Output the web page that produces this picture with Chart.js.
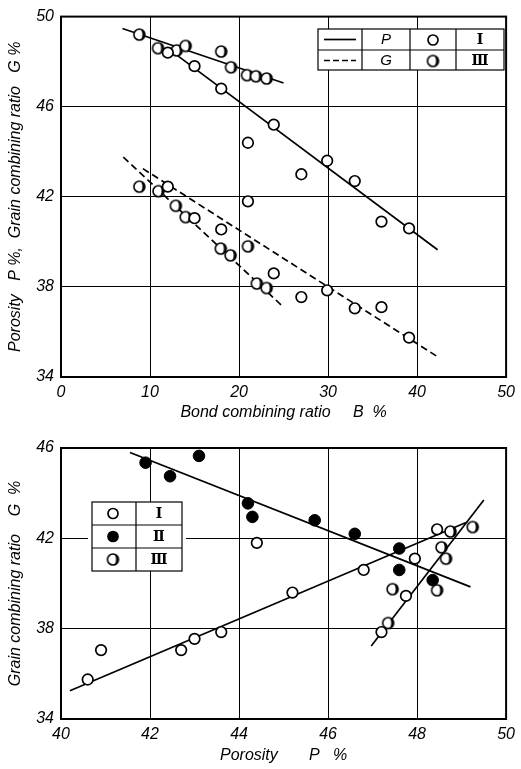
<!DOCTYPE html>
<html>
<head>
<meta charset="utf-8">
<script src="https://cdn.jsdelivr.net/npm/chart.js@4/dist/chart.umd.min.js"></script>
<style>
  html, body { margin: 0; padding: 0; background: #fff; }
  #wrap { position: relative; width: 521px; height: 769px; }
  .box { position: absolute; left: 0; width: 521px; }
</style>
</head>
<body>
<div id="wrap">
  <div class="box" style="top:0;height:430px"><canvas id="topChart"></canvas></div>
  <div class="box" style="top:430px;height:339px"><canvas id="botChart"></canvas></div>
</div>
<script>
// === top chart: bond ratio B vs porosity P / grain ratio G ===
const bTopI_P = [12.0, 15.0, 18.0, 21.0, 23.9, 27.0, 29.9, 33.0, 36.0, 39.1];
const pTopI = [48.4, 47.8, 46.8, 44.4, 45.2, 43.0, 43.6, 42.7, 40.9, 40.6];
const bTopI_G = [12.0, 15.0, 18.0, 21.0, 23.9, 27.0, 29.9, 33.0, 36.0, 39.1];
const gTopI = [42.45, 41.05, 40.55, 41.8, 38.6, 37.55, 37.85, 37.05, 37.1, 35.75];
const bTopIII_P = [8.8, 10.9, 13.0, 14.0, 18.0, 19.1, 20.9, 21.9, 23.1];
const pTopIII = [49.2, 48.6, 48.5, 48.7, 48.45, 47.75, 47.4, 47.35, 47.25];
const bTopIII_G = [8.8, 10.95, 12.9, 14.0, 17.95, 19.05, 21.0, 22.0, 23.1];
const gTopIII = [42.45, 42.25, 41.6, 41.1, 39.7, 39.4, 39.8, 38.15, 37.95];

// fitted lines (end points)
const fitTopPI_B = [12.3, 42.3], fitTopPI_V = [48.5, 39.65];
const fitTopPIII_B = [6.9, 25.0], fitTopPIII_V = [49.47, 47.05];
const fitTopGI_B = [9.2, 42.3], fitTopGI_V = [43.25, 34.9];
const fitTopGIII_B = [7.0, 25.0], fitTopGIII_V = [43.76, 37.1];

// === bottom chart: porosity P vs grain ratio G ===
const pBotI = [40.6, 40.9, 42.7, 43.0, 43.6, 44.4, 45.2, 46.8, 47.2, 47.75, 47.95, 48.45];
const gBotI = [35.75, 37.05, 37.05, 37.55, 37.85, 41.8, 39.6, 40.6, 37.85, 39.45, 41.1, 42.4];
const pBotII = [41.9, 42.45, 43.1, 44.2, 44.3, 45.7, 46.6, 47.6, 47.6, 48.35];
const gBotII = [45.35, 44.75, 45.65, 43.55, 42.95, 42.8, 42.2, 41.55, 40.6, 40.15];
const pBotIII = [47.35, 47.45, 48.45, 48.55, 48.65, 48.75, 49.25];
const gBotIII = [38.25, 39.75, 39.7, 41.6, 41.1, 42.3, 42.5];

const fitBotI_P = [40.2, 49.1], fitBotI_G = [35.25, 42.7];
const fitBotII_P = [41.55, 49.2], fitBotII_G = [45.8, 39.85];
const fitBotIII_P = [46.97, 49.5], fitBotIII_G = [37.23, 43.7];

const topTicksX = [0, 10, 20, 30, 40, 50];
const topTicksY = [34, 38, 42, 46, 50];
const botTicksX = [40, 42, 44, 46, 48, 50];
const botTicksY = [34, 38, 42, 46];

const FONT = '"Liberation Sans", "DejaVu Sans", sans-serif';
const ROMAN = '"DejaVu Serif", serif';

function pts(xs, ys) {
  return xs.map((x, i) => ({ x: x, y: ys[i] }));
}

// half filled marker (III) - mostly black, thin white crescent on the left
function halfDot(r) {
  const c = document.createElement("canvas");
  c.width = c.height = 2 * r + 4;
  const g = c.getContext("2d");
  const m = r + 2;
  g.beginPath();
  g.arc(m, m, r, 0, Math.PI * 2);
  g.fillStyle = "#000";
  g.fill();
  g.beginPath();
  g.arc(m, m, r, -Math.PI / 2, Math.PI / 2, true);
  g.ellipse(m, m, r * 0.55, r, 0, Math.PI / 2, -Math.PI / 2, true);
  g.closePath();
  g.fillStyle = "#fff";
  g.fill();
  g.beginPath();
  g.arc(m, m, r, 0, Math.PI * 2);
  g.lineWidth = 1.6;
  g.strokeStyle = "#000";
  g.stroke();
  return c;
}
const halfImg = halfDot(5.5);

function openSet(data) {
  return { type: "scatter", data: data, pointStyle: "circle", pointRadius: 5.3,
    pointBackgroundColor: "#fff", pointBorderColor: "#000", pointBorderWidth: 1.7, order: 0 };
}
function fullSet(data) {
  return { type: "scatter", data: data, pointStyle: "circle", pointRadius: 5.8,
    pointBackgroundColor: "#000", pointBorderColor: "#000", pointBorderWidth: 1, order: 0 };
}
function halfSet(data) {
  return { type: "scatter", data: data, pointStyle: halfImg, pointRadius: 6, order: 0 };
}
function lineSet(data, dashed) {
  return { type: "line", data: data, borderColor: "#000", borderWidth: 1.7,
    borderDash: dashed ? [7, 4] : [], pointRadius: 0, fill: false, order: 1 };
}

// frame round the plot area
function drawFrame(chart) {
  const a = chart.chartArea, c = chart.ctx;
  c.save();
  c.strokeStyle = "#000";
  c.lineWidth = 2;
  c.strokeRect(a.left, a.top, a.right - a.left, a.bottom - a.top);
  c.restore();
}

function drawCircle(c, x, y, kind) {
  if (kind === "half") { c.drawImage(halfImg, x - halfImg.width / 2, y - halfImg.height / 2); return; }
  c.beginPath();
  c.arc(x, y, 5, 0, Math.PI * 2);
  c.fillStyle = kind === "full" ? "#000" : "#fff";
  c.fill();
  c.lineWidth = 1.7;
  c.strokeStyle = "#000";
  c.stroke();
}

const topLegend = {
  id: "topLegend",
  afterDraw(chart) {
    drawFrame(chart);
    const c = chart.ctx;
    const L = 318, T = 29, R = 504, B = 70, mid = 50;
    c.save();
    c.fillStyle = "#fff";
    c.fillRect(L, T, R - L, B - T);
    c.strokeStyle = "#000";
    c.lineWidth = 1.2;
    c.strokeRect(L, T, R - L, B - T);
    c.beginPath();
    [362, 410, 456].forEach(x => { c.moveTo(x, T); c.lineTo(x, B); });
    c.moveTo(L, mid); c.lineTo(R, mid);
    c.stroke();
    // line samples
    c.lineWidth = 1.7;
    c.beginPath(); c.moveTo(324, 39.5); c.lineTo(356, 39.5); c.stroke();
    c.setLineDash([6, 3]);
    c.beginPath(); c.moveTo(324, 60.5); c.lineTo(356, 60.5); c.stroke();
    c.setLineDash([]);
    c.fillStyle = "#000";
    c.textAlign = "center"; c.textBaseline = "middle";
    c.font = "italic 15px " + FONT;
    c.fillText("P", 386, 40);
    c.fillText("G", 386, 61);
    drawCircle(c, 433, 40, "open");
    drawCircle(c, 433, 61, "half");
    c.fillStyle = "#000";
    c.font = "bold 14px " + ROMAN;
    c.fillText("Ⅰ", 480, 40);
    c.fillText("Ⅲ", 480, 61);
    c.restore();
  }
};

const botLegend = {
  id: "botLegend",
  afterDraw(chart) {
    drawFrame(chart);
    const c = chart.ctx;
    const L = 92, T = 72, R = 182, B = 141;
    c.save();
    c.fillStyle = "#fff";
    c.fillRect(L - 4, T, R - L + 8, B - T);
    c.strokeStyle = "#000";
    c.lineWidth = 1.2;
    c.strokeRect(L, T, R - L, B - T);
    c.beginPath();
    c.moveTo(136, T); c.lineTo(136, B);
    c.moveTo(L, 95); c.lineTo(R, 95);
    c.moveTo(L, 118); c.lineTo(R, 118);
    c.stroke();
    drawCircle(c, 113, 83.5, "open");
    drawCircle(c, 113, 106.5, "full");
    drawCircle(c, 113, 129.5, "half");
    c.fillStyle = "#000";
    c.textAlign = "center"; c.textBaseline = "middle";
    c.font = "bold 14px " + ROMAN;
    c.fillText("Ⅰ", 159, 84);
    c.fillText("Ⅱ", 159, 107);
    c.fillText("Ⅲ", 159, 130);
    c.restore();
  }
};

function axisOpts(min, max, ticksList, title, isX, fitSize, titlePad) {
  return {
    type: "linear", min: min, max: max,
    afterBuildTicks: s => { s.ticks = ticksList.map(v => ({ value: v })); },
    afterFit: s => { if (isX) s.height = fitSize; else s.width = fitSize; },
    grid: { color: "#000", lineWidth: 1, drawTicks: false },
    border: { display: true, color: "#000", width: 2 },
    ticks: { color: "#000", padding: isX ? 6 : 7, font: { family: FONT, size: 16, style: "italic" } },
    title: { display: true, text: title, color: "#000", padding: titlePad,
      font: { family: FONT, size: 16, style: "italic" } }
  };
}

new Chart(document.getElementById("topChart"), {
  data: {
    datasets: [
      openSet(pts(bTopI_P, pTopI)),
      openSet(pts(bTopI_G, gTopI)),
      halfSet(pts(bTopIII_P, pTopIII)),
      halfSet(pts(bTopIII_G, gTopIII)),
      lineSet(pts(fitTopPI_B, fitTopPI_V), false),
      lineSet(pts(fitTopPIII_B, fitTopPIII_V), false),
      lineSet(pts(fitTopGI_B, fitTopGI_V), true),
      lineSet(pts(fitTopGIII_B, fitTopGIII_V), true)
    ]
  },
  options: {
    responsive: true, maintainAspectRatio: false, animation: false,
    layout: { padding: { top: 13, right: 8, left: 0, bottom: 0 } },
    plugins: { legend: { display: false }, tooltip: { enabled: false } },
    scales: {
      x: axisOpts(0, 50, topTicksX, "Bond combining ratio     B  %", true, 53, { top: 0, bottom: 8 }),
      y: axisOpts(34, 50, topTicksY, "Porosity   P %,  Grain combining ratio   G %", false, 61, { top: 6, bottom: 0 })
    }
  },
  plugins: [topLegend]
});

new Chart(document.getElementById("botChart"), {
  data: {
    datasets: [
      openSet(pts(pBotI, gBotI)),
      fullSet(pts(pBotII, gBotII)),
      halfSet(pts(pBotIII, gBotIII)),
      lineSet(pts(fitBotI_P, fitBotI_G), false),
      lineSet(pts(fitBotII_P, fitBotII_G), false),
      lineSet(pts(fitBotIII_P, fitBotIII_G), false)
    ]
  },
  options: {
    responsive: true, maintainAspectRatio: false, animation: false,
    layout: { padding: { top: 18, right: 8, left: 0, bottom: 0 } },
    plugins: { legend: { display: false }, tooltip: { enabled: false } },
    scales: {
      x: axisOpts(40, 50, botTicksX, "Porosity       P   %", true, 50, { top: 0, bottom: 4 }),
      y: axisOpts(34, 46, botTicksY, "Grain combining ratio    G  %", false, 61, { top: 6, bottom: 0 })
    }
  },
  plugins: [botLegend]
});
</script>
</body>
</html>
